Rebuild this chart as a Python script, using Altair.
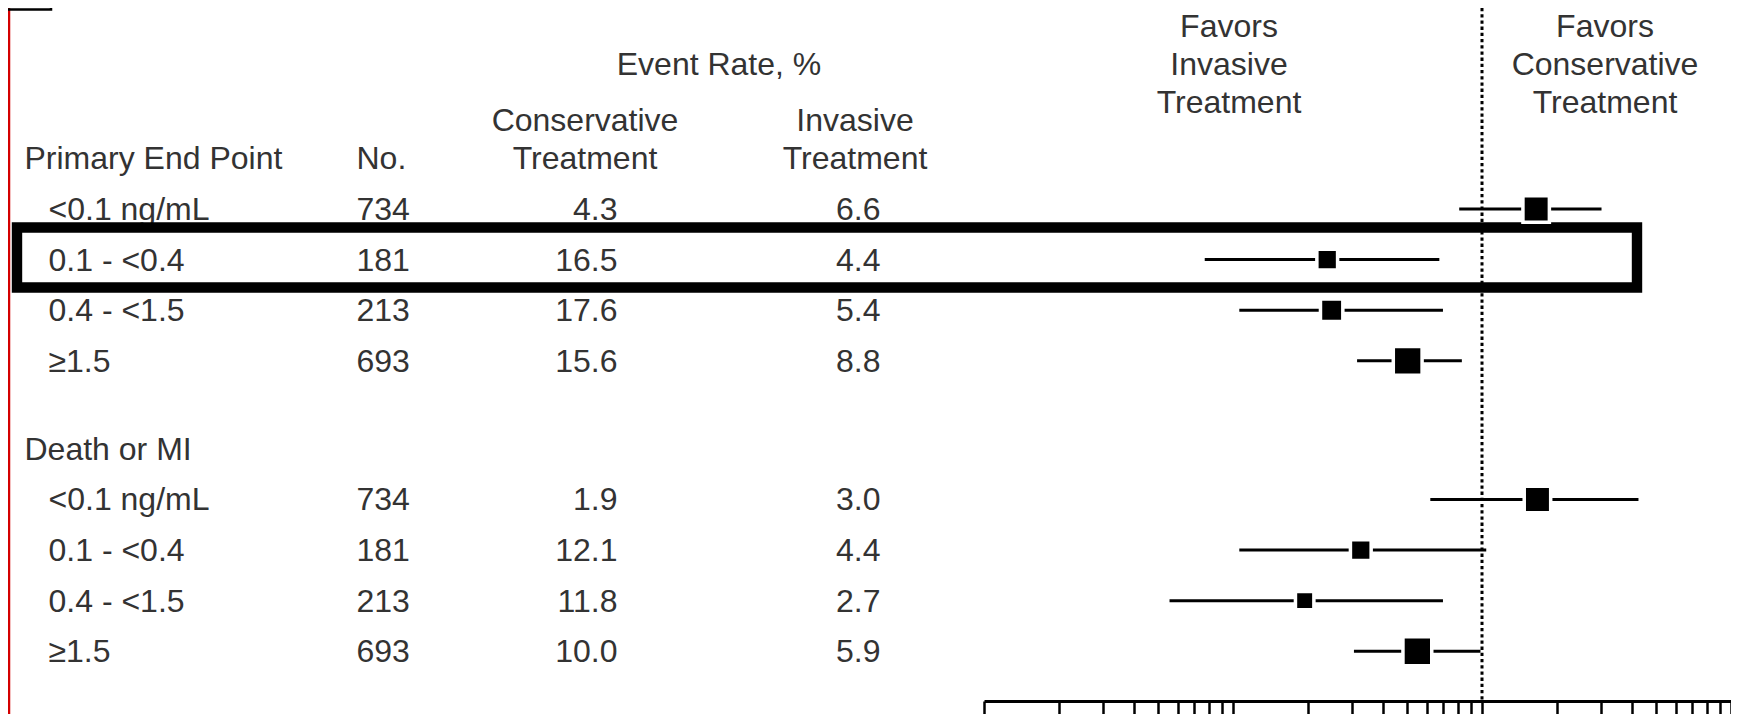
import altair as alt
import pandas as pd

# ---------------- data ----------------
group_names = ["Primary End Point", "Death or MI"]
subgroups = ["<0.1 ng/mL", "0.1 - <0.4", "0.4 - <1.5", "≥1.5"]
n_patients = [734, 181, 213, 693]

primary_cons_rate = [4.3, 16.5, 17.6, 15.6]
primary_inv_rate = [6.6, 4.4, 5.4, 8.8]
primary_or = [1.65, 0.239, 0.249, 0.503]
primary_lo = [0.81, 0.077, 0.106, 0.315]
primary_hi = [3.02, 0.674, 0.697, 0.83]
primary_weight = [7.0, 4.3, 5.0, 8.3]

death_cons_rate = [1.9, 12.1, 11.8, 10.0]
death_inv_rate = [3.0, 4.4, 2.7, 5.9]
death_or = [1.67, 0.326, 0.194, 0.55]
death_lo = [0.62, 0.106, 0.0556, 0.306]
death_hi = [4.25, 1.04, 0.697, 0.986]
death_weight = [7.0, 4.3, 3.4, 8.3]

highlight_group = "Primary End Point"
highlight_subgroup = "0.1 - <0.4"

axis_tick_values = [
    0.01, 0.02, 0.03, 0.04, 0.05, 0.06, 0.07, 0.08, 0.09,
    0.1, 0.2, 0.3, 0.4, 0.5, 0.6, 0.7, 0.8, 0.9,
    1, 2, 3, 4, 5, 6, 7, 8, 9, 10,
]
reference_value = [1]

header_event_rate = "Event Rate, %"
header_cons = "Conservative\nTreatment"
header_inv = "Invasive\nTreatment"
header_no = "No."
favors_left = "Favors\nInvasive\nTreatment"
favors_right = "Favors\nConservative\nTreatment"

# ---------------- layout ----------------
W, H = 1723, 693
GROUP_GAP = 0.74
Y_DOMAIN = [-2.972, 10.723]
X_RANGE = [976, 1723]
FONT = "Liberation Sans"
FS = 32
TXT = "#333333"
LINE_STEP = 0.75          # header line spacing, in rows
LINE_H = 38               # same spacing in pixels

groups = [
    (group_names[0], primary_cons_rate, primary_inv_rate, primary_or, primary_lo, primary_hi, primary_weight),
    (group_names[1], death_cons_rate, death_inv_rate, death_or, death_lo, death_hi, death_weight),
]

rows, heads = [], []
p = 0.0
for gi, (gname, cons, inv, orv, lo, hi, wt) in enumerate(groups):
    if gi > 0:
        p += 1 + GROUP_GAP
    heads.append({"label": gname, "pos": p})
    for j in range(len(subgroups)):
        p += 1
        rows.append({
            "group": gname, "label": subgroups[j], "n": n_patients[j],
            "cons": cons[j], "inv": inv[j], "or": orv[j], "lo": lo[j], "hi": hi[j],
            "weight": wt[j], "pos": p,
            "hl": (gname == highlight_group and subgroups[j] == highlight_subgroup),
        })
rows = pd.DataFrame(rows)
heads = pd.DataFrame(heads)
hl = rows[rows["hl"]].copy()
hl["top"] = hl["pos"] - 0.634
hl["bot"] = hl["pos"] + 0.551

# header blocks: position of the first line (multi-line text grows downward)
hdr_block = pd.DataFrame([
    {"text": header_cons, "pos": -LINE_STEP, "col": "cons"},
    {"text": header_inv, "pos": -LINE_STEP, "col": "inv"},
    {"text": header_event_rate, "pos": -2.5 * LINE_STEP, "col": "ev"},
    {"text": favors_left, "pos": -3.5 * LINE_STEP, "col": "fl"},
    {"text": favors_right, "pos": -3.5 * LINE_STEP, "col": "fr"},
])
hdr_no = pd.DataFrame([{"text": header_no, "pos": 0.0}])
ref_df = pd.DataFrame({"v": reference_value})

yscale = alt.Scale(domain=Y_DOMAIN, range=[0, H], nice=False, zero=False)
xscale = alt.Scale(type="log", domain=[0.01, 10], range=X_RANGE, nice=False)
xaxis = alt.Axis(values=axis_tick_values, labels=False, title=None, grid=False,
                 ticks=True, tickSize=16, tickWidth=2.5, tickColor="black",
                 domain=True, domainColor="black", domainWidth=3, orient="bottom")


def Y(f="pos"):
    return alt.Y(f"{f}:Q", scale=yscale, axis=None)


def text_layer(df, field, x, align, fmt=None, multiline=False):
    kw = dict(align=align, baseline="middle", font=FONT, fontSize=FS, color=TXT, dy=1)
    if multiline:
        kw.update(lineBreak="\n", lineHeight=LINE_H)
    t = alt.Text(f"{field}:Q", format=fmt) if fmt else alt.Text(f"{field}:N")
    return alt.Chart(df).mark_text(**kw).encode(x=alt.value(x), y=Y(), text=t)


layers = []

# thin red edge line and the cut-off panel-letter box at top-left
layers.append(alt.Chart(ref_df).mark_rule(color="#d40000", strokeWidth=2.5).encode(
    x=alt.value(1), y=alt.value(-10), y2=alt.value(H + 30)))
layers.append(alt.Chart(ref_df).mark_rect(fillOpacity=0, stroke="black", strokeWidth=2.5).encode(
    x=alt.value(-20), x2=alt.value(43), y=alt.value(-40), y2=alt.value(1.5)))

# table text
layers.append(text_layer(heads, "label", 16.5, "left"))
layers.append(text_layer(rows, "label", 40.5, "left"))
layers.append(text_layer(hdr_no, "text", 348.5, "left"))
layers.append(text_layer(rows, "n", 348.5, "left"))
layers.append(text_layer(rows, "cons", 609.5, "right", fmt=".1f"))
layers.append(text_layer(rows, "inv", 872.5, "right", fmt=".1f"))
col_x = {"cons": 577, "inv": 847, "ev": 711, "fl": 1221, "fr": 1597}
for c, xv in col_x.items():
    layers.append(text_layer(hdr_block[hdr_block["col"] == c], "text", xv, "center", multiline=True))

# highlight box around one row
layers.append(alt.Chart(hl).mark_rect(fillOpacity=0, stroke="black", strokeWidth=10.4).encode(
    x=alt.value(9), x2=alt.value(1629), y=alt.Y("top:Q", scale=yscale, axis=None), y2="bot:Q"))

# reference line at OR = 1
layers.append(alt.Chart(ref_df).mark_rule(color="black", strokeWidth=3, strokeDash=[3.3, 2.9]).encode(
    x=alt.X("v:Q", scale=xscale, axis=xaxis)))

# confidence intervals
layers.append(alt.Chart(rows).mark_rule(color="black", strokeWidth=3).encode(
    x=alt.X("lo:Q", scale=xscale, axis=xaxis), x2="hi:Q", y=Y()))

# point estimates
layers.append(alt.Chart(rows).mark_point(shape="square", filled=True, fill="black", fillOpacity=1,
                                          stroke="white", strokeWidth=3.5, opacity=1).encode(
    x=alt.X("or:Q", scale=xscale, axis=xaxis), y=Y(),
    size=alt.Size("weight:Q", scale=alt.Scale(domain=[0, 10], range=[0, 1000], zero=True), legend=None)))

chart = alt.layer(*layers).properties(
    width=W, height=H,
    autosize=alt.AutoSizeParams(type="none"),
    padding={"left": 0, "top": 0, "right": 0, "bottom": 13},
).configure_view(stroke=None)

chart.save("out.html", embed_options={"renderer": "svg", "actions": False})
